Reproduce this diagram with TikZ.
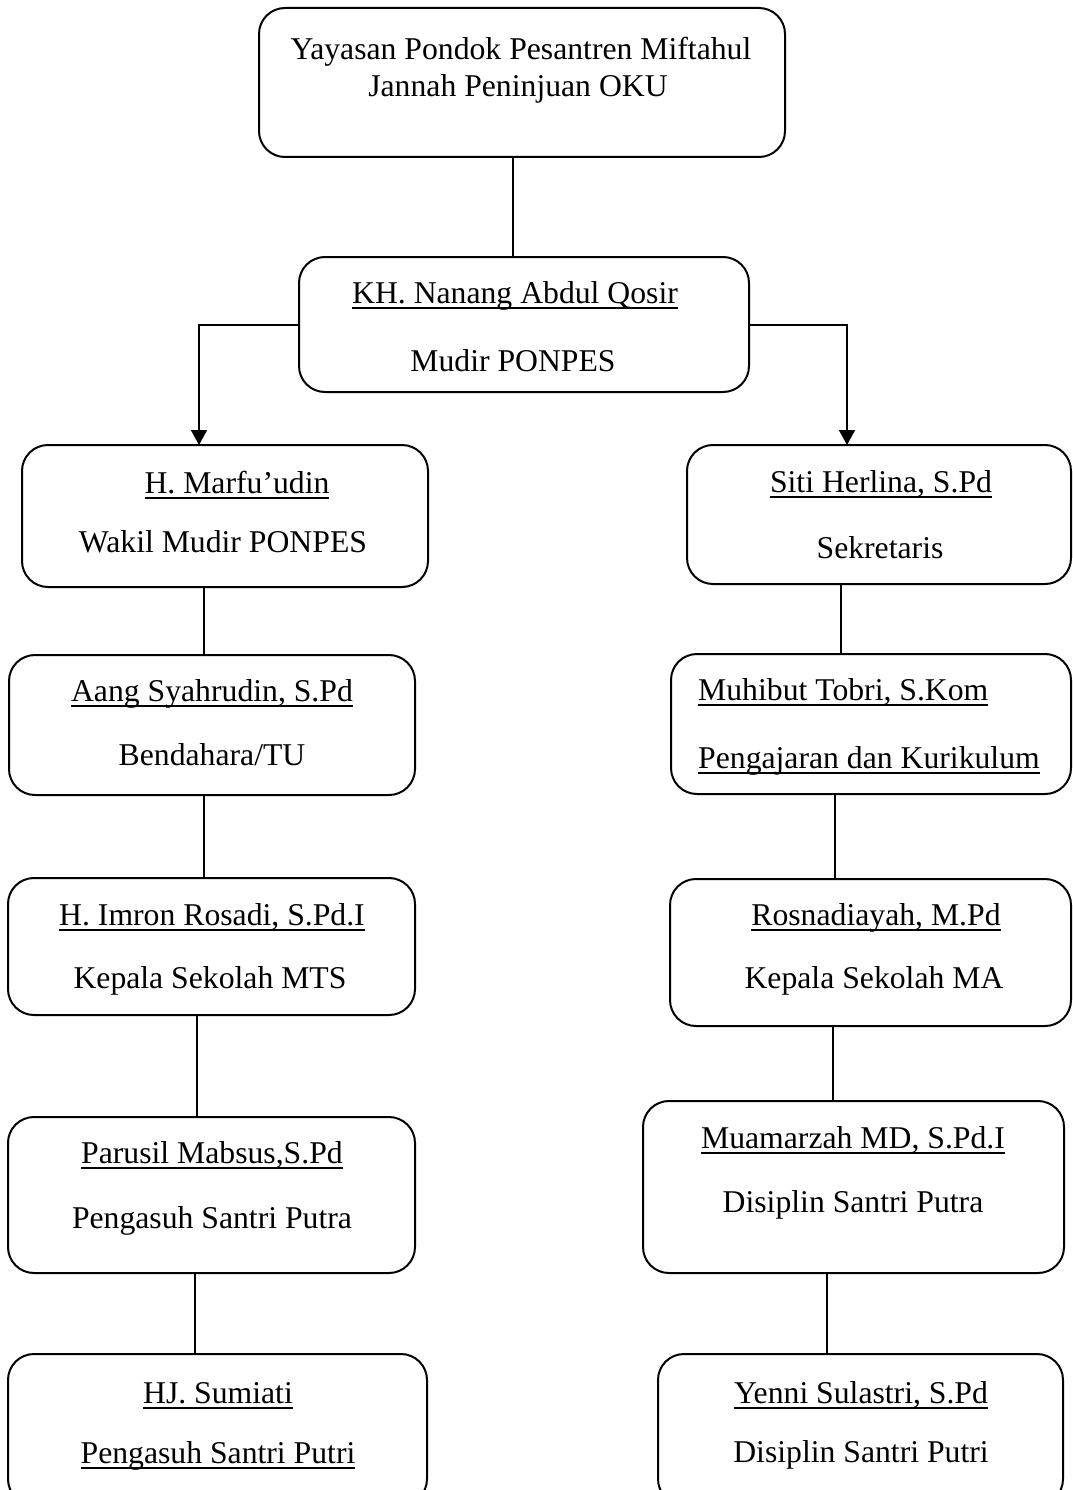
\documentclass[tikz,border=0pt]{standalone}
\usepackage{fontspec}
\setmainfont{Liberation Serif}
\usetikzlibrary{arrows.meta}
\newsavebox\myulbox
\newcommand\myul[1]{\sbox\myulbox{#1}\rlap{\rule[-5.6pt]{\wd\myulbox}{2pt}}\usebox\myulbox}
\tikzset{
  orgbox/.style={draw, line width=2pt, rounded corners=26pt, inner sep=0pt, outer sep=0pt},
  lbl/.style={anchor=base, inner sep=0pt, font=\fontsize{31.7}{38}\selectfont},
  lblL/.style={anchor=base west, inner sep=0pt, font=\fontsize{31.7}{38}\selectfont},
  conn/.style={line width=2pt},
  arr/.style={line width=2pt, -{Triangle[width=16pt,length=15pt]}},
}
\begin{document}
\begin{tikzpicture}[x=1pt,y=-1pt]
\useasboundingbox (0,0) rectangle (1072,1490);
\clip (0,0) rectangle (1072,1490);
% boxes
\node[orgbox, minimum width=526pt, minimum height=149pt] (top) at (522,82.5) {};
\node[orgbox, minimum width=450pt, minimum height=135pt] (kh) at (524,324.5) {};
\node[orgbox, minimum width=406pt, minimum height=142pt] (marfu) at (225,516) {};
\node[orgbox, minimum width=384pt, minimum height=139pt] (siti) at (879,514.5) {};
\node[orgbox, minimum width=406pt, minimum height=140pt] (aang) at (212,725) {};
\node[orgbox, minimum width=400pt, minimum height=140pt] (muhibut) at (871,724) {};
\node[orgbox, minimum width=407pt, minimum height=137pt] (imron) at (211.5,946.5) {};
\node[orgbox, minimum width=401pt, minimum height=147pt] (rosna) at (870.5,952.5) {};
\node[orgbox, minimum width=407pt, minimum height=156pt] (parusil) at (211.5,1195) {};
\node[orgbox, minimum width=421pt, minimum height=172pt] (muamar) at (853.5,1187) {};
\node[orgbox, minimum width=419pt, minimum height=151pt] (hj) at (217.5,1429.5) {};
\node[orgbox, minimum width=405pt, minimum height=151pt] (yenni) at (860.5,1429.5) {};
% texts
\node[lbl] (t1) at (521,60) {Yayasan Pondok Pesantren Miftahul};
\node[lbl] (t2) at (518,97) {Jannah Peninjuan OKU};
\node[lbl] (kh1) at (515,303) {\myul{KH. Nanang Abdul Qosir}};
\node[lbl] (kh2) at (513,371) {Mudir PONPES};
\node[lbl] (ma1) at (237,493) {\myul{H. Marfu’udin}};
\node[lbl] (ma2) at (223,552) {Wakil Mudir PONPES};
\node[lbl] (si1) at (881,492) {\myul{Siti Herlina, S.Pd}};
\node[lbl] (si2) at (880,558) {Sekretaris};
\node[lbl] (aa1) at (212,701) {\myul{Aang Syahrudin, S.Pd}};
\node[lbl] (aa2) at (212,765) {Bendahara/TU};
\node[lblL] (mu1) at (698,700) {\myul{Muhibut Tobri, S.Kom}};
\node[lblL] (mu2) at (698,768) {\myul{Pengajaran dan Kurikulum}};
\node[lbl] (im1) at (212,925) {\myul{H. Imron Rosadi, S.Pd.I}};
\node[lbl] (im2) at (210,988) {Kepala Sekolah MTS};
\node[lbl] (ro1) at (876,925) {\myul{Rosnadiayah, M.Pd}};
\node[lbl] (ro2) at (874,988) {Kepala Sekolah MA};
\node[lbl] (pa1) at (212,1163) {\myul{Parusil Mabsus,S.Pd}};
\node[lbl] (pa2) at (212,1228) {Pengasuh Santri Putra};
\node[lbl] (mz1) at (853,1148) {\myul{Muamarzah MD, S.Pd.I}};
\node[lbl] (mz2) at (853,1212) {Disiplin Santri Putra};
\node[lbl] (hj1) at (218,1403) {\myul{HJ. Sumiati}};
\node[lbl] (hj2) at (218,1463) {\myul{Pengasuh Santri Putri}};
\node[lbl] (ye1) at (861,1403) {\myul{Yenni Sulastri, S.Pd}};
\node[lbl] (ye2) at (861,1462) {Disiplin Santri Putri};
% connector x positions
\coordinate (xt) at (513,0);
\coordinate (xa) at (199,0);
\coordinate (xb) at (847,0);
\coordinate (l1) at (204,0);
\coordinate (l2) at (204,0);
\coordinate (l3) at (197,0);
\coordinate (l4) at (195,0);
\coordinate (r1) at (841,0);
\coordinate (r2) at (835,0);
\coordinate (r3) at (833,0);
\coordinate (r4) at (827,0);
% connectors
\draw[conn] (top.south -| xt) -- (kh.north -| xt);
\draw[arr] (kh.west) -| (marfu.north -| xa);
\draw[arr] (kh.east) -| (siti.north -| xb);
\draw[conn] (marfu.south -| l1) -- (aang.north -| l1);
\draw[conn] (aang.south -| l2) -- (imron.north -| l2);
\draw[conn] (imron.south -| l3) -- (parusil.north -| l3);
\draw[conn] (parusil.south -| l4) -- (hj.north -| l4);
\draw[conn] (siti.south -| r1) -- (muhibut.north -| r1);
\draw[conn] (muhibut.south -| r2) -- (rosna.north -| r2);
\draw[conn] (rosna.south -| r3) -- (muamar.north -| r3);
\draw[conn] (muamar.south -| r4) -- (yenni.north -| r4);
\end{tikzpicture}
\end{document}
